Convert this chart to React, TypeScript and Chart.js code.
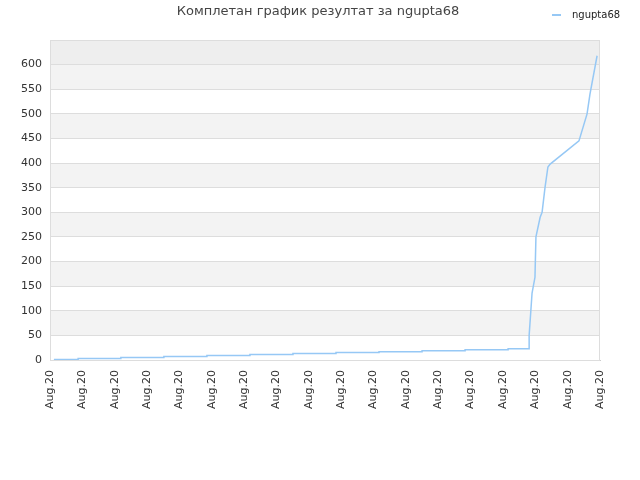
import { Chart, registerables } from 'chart.js'
import { useEffect, useRef } from 'react'

Chart.register(...registerables)

const TITLE = 'Комплетан график резултат за ngupta68'
const SERIES_NAME = 'ngupta68'

// 18 date ticks along the x axis, all the same day
const tickLabels = [
  'Aug.20', 'Aug.20', 'Aug.20', 'Aug.20', 'Aug.20', 'Aug.20',
  'Aug.20', 'Aug.20', 'Aug.20', 'Aug.20', 'Aug.20', 'Aug.20',
  'Aug.20', 'Aug.20', 'Aug.20', 'Aug.20', 'Aug.20', 'Aug.20',
]

// x is measured in tick intervals, y is the cumulative score
const xs = [
  0.12, 0.87, 0.87, 2.19, 2.19, 3.52, 3.52, 4.85, 4.85, 6.18, 6.18,
  7.51, 7.51, 8.84, 8.84, 10.17, 10.17, 11.5, 11.5, 12.83, 12.83,
  14.16, 14.16, 14.81, 14.81, 14.9, 14.99, 15.02, 15.15, 15.21, 15.3,
  15.39, 15.46, 16.35, 16.6, 16.69, 16.91,
]
const ys = [
  1, 1, 3, 3, 5, 5, 7, 7, 9, 9, 11,
  11, 13, 13, 15, 15, 17, 17, 19, 19, 21,
  21, 23, 23, 50, 136, 168, 250, 290, 300, 350,
  392, 398, 445, 500, 540, 618,
]

const LINE_COLOR = 'rgb(150, 200, 245)'

const decorPlugin = {
  id: 'decor',
  beforeDraw(chart: any) {
    const { ctx, chartArea, scales } = chart
    const y = scales.y
    ctx.save()
    for (let v = 0; v < 650; v += 50) {
      const top = y.getPixelForValue(v + 50)
      const bottom = y.getPixelForValue(v)
      let fill = (v / 50) % 2 === 1 ? '#f3f3f3' : '#ffffff'
      if (v === 600) fill = '#eeeeee'
      ctx.fillStyle = fill
      ctx.fillRect(chartArea.left, top, chartArea.right - chartArea.left, bottom - top)
    }
    ctx.restore()
  },
  afterDraw(chart: any) {
    const { ctx, chartArea } = chart
    ctx.save()
    ctx.strokeStyle = '#dddddd'
    ctx.lineWidth = 1
    ctx.strokeRect(chartArea.left + 0.5, chartArea.top + 0.5, chartArea.right - chartArea.left - 1, chartArea.bottom - chartArea.top)
    ctx.fillStyle = '#444444'
    ctx.font = '13px "DejaVu Sans"'
    ctx.textAlign = 'center'
    ctx.textBaseline = 'middle'
    ctx.fillText(TITLE, 318, 12)
    ctx.fillStyle = LINE_COLOR
    ctx.fillRect(552, 14, 9, 2)
    ctx.fillStyle = '#222222'
    ctx.font = '10px "DejaVu Sans"'
    ctx.textAlign = 'left'
    ctx.fillText(SERIES_NAME, 572, 15)
    ctx.restore()
  },
}

export default function App() {
  const canvasRef = useRef<HTMLCanvasElement>(null)

  useEffect(() => {
    document.body.style.margin = '0'
    if (!canvasRef.current) return
    const points = xs.map((x, i) => ({ x, y: ys[i] }))

    const chart = new Chart(canvasRef.current, {
      type: 'line',
      data: {
        datasets: [
          {
            label: SERIES_NAME,
            data: points,
            borderColor: LINE_COLOR,
            backgroundColor: LINE_COLOR,
            borderWidth: 1.5,
            pointRadius: 0,
            tension: 0,
          },
        ],
      },
      options: {
        responsive: false,
        animation: false,
        layout: { padding: { top: 40, right: 40, left: 0, bottom: 0 } },
        plugins: {
          legend: { display: false },
          title: { display: false },
          tooltip: { enabled: false },
        },
        scales: {
          x: {
            type: 'linear',
            min: 0,
            max: tickLabels.length - 1,
            afterFit: (s: any) => { s.height = 120 },
            afterBuildTicks: (s: any) => {
              s.ticks = tickLabels.map((_, i) => ({ value: i }))
            },
            ticks: {
              autoSkip: false,
              minRotation: 90,
              maxRotation: 90,
              color: '#333333',
              font: { family: 'DejaVu Sans', size: 11 },
              padding: 2,
              callback: (v: any) => tickLabels[Math.round(Number(v))] ?? '',
            },
            grid: { display: false, drawTicks: true },
            border: { color: '#cccccc' },
          },
          y: {
            min: 0,
            max: 650,
            afterFit: (s: any) => { s.width = 50 },
            ticks: {
              stepSize: 50,
              color: '#333333',
              font: { family: 'DejaVu Sans', size: 11 },
              padding: 8,
              callback: (v: any) => (Number(v) >= 650 ? '' : String(v)),
            },
            grid: { color: '#dddddd', drawTicks: false },
            border: { display: false },
          },
        },
      },
      plugins: [decorPlugin],
    })

    return () => chart.destroy()
  }, [])

  return (
    <div style={{ width: 640, height: 480 }}>
      <canvas ref={canvasRef} width={640} height={480} />
    </div>
  )
}
